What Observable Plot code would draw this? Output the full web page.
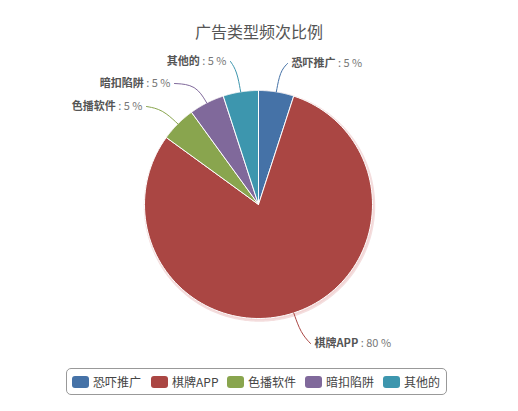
<!DOCTYPE html>
<html><head><meta charset="utf-8">
<script src="https://cdn.jsdelivr.net/npm/d3@7"></script>
<script src="https://cdn.jsdelivr.net/npm/@observablehq/plot@0.6"></script>
<style>
body{margin:0;background:#fff;font-family:"Noto Sans CJK SC","Noto Sans",sans-serif;}
#wrap{position:relative;width:518px;height:411px;overflow:hidden;}
#title{position:absolute;left:0;top:20px;width:518px;text-align:center;font-size:16px;color:#555;line-height:22px;}
#legend{position:absolute;left:66px;top:368px;width:381px;height:27px;box-sizing:border-box;border:1px solid #999;border-radius:5px;font-size:12px;color:#444;white-space:nowrap;}
.item{position:absolute;top:0;height:25px;display:flex;align-items:center;white-space:nowrap;}
.sw{width:17px;height:12px;border-radius:3px;margin-right:4px;flex-shrink:0;}
svg{position:absolute;left:0;top:0;}
</style></head>
<body><div id="wrap"><div id="title"></div><div id="legend"></div></div>
<script>
const title = "广告类型频次比例";
const categories = ["恐吓推广", "棋牌APP", "色播软件", "暗扣陷阱", "其他的"];
const values = [5, 80, 5, 5, 5];
const colors = ["#4572A7", "#AA4643", "#89A54E", "#80699B", "#3D96AE"];
// label anchor points (where the connector ends) for each slice
const labelX = [291, 314, 142, 170, 226];
const labelY = [63, 343, 106, 83, 61];
const labelAnchor = ["start", "start", "end", "end", "end"];
const legendX = [5, 84, 160, 238, 316];

const W = 518, H = 411, cx = 258, cy = 204, R = 114;
document.getElementById("title").textContent = title;

const pie = d3.pie().sort(null).value(d => d)(values);
const slices = [];
pie.forEach((p, i) => {
  const n = 120;
  slices.push({k: i, x: cx, y: cy});
  for (let j = 0; j <= n; j++) {
    const a = p.startAngle + (p.endAngle - p.startAngle) * j / n;
    slices.push({k: i, x: cx + R * Math.sin(a), y: cy - R * Math.cos(a)});
  }
  slices.push({k: i, x: cx, y: cy});
});
const shadow = d3.range(0, 361).map(d => ({x: cx + 1 + (R + 1) * Math.sin(d * Math.PI / 180), y: cy + 1.5 - (R + 1) * Math.cos(d * Math.PI / 180)}));
const connectors = [];
const labels = [];
pie.forEach((p, i) => {
  const a = (p.startAngle + p.endAngle) / 2;
  const ex = cx + R * Math.sin(a), ey = cy - R * Math.cos(a);
  const mx = cx + (R + 22) * Math.sin(a), my = cy - (R + 22) * Math.cos(a);
  const lx = labelX[i], ly = labelY[i];
  const bx = lx + (labelAnchor[i] === "start" ? -4 : 4);
  connectors.push({k: i, x: ex, y: ey}, {k: i, x: mx, y: my}, {k: i, x: bx, y: ly});
  labels.push({k: i, x: lx, y: ly, name: categories[i], val: " : " + values[i] + " %", anchor: labelAnchor[i]});
});

const ctx = document.createElement("canvas").getContext("2d");
labels.forEach(d => {
  ctx.font = "bold 11px 'Noto Sans CJK SC'";
  d.wName = ctx.measureText(d.name).width;
  ctx.font = "11px 'Noto Sans CJK SC'";
  d.wVal = ctx.measureText(d.val).width;
});

const chart = Plot.plot({
  width: W, height: H, margin: 0,
  x: {domain: [0, W], range: [0, W], axis: null},
  y: {domain: [0, H], range: [0, H], axis: null},
  marks: [
    Plot.line(shadow, {x: "x", y: "y", fill: "#f2d4d4", stroke: "#f4dede", strokeWidth: 1.5}),
    Plot.line(slices, {x: "x", y: "y", z: "k", fill: d => colors[d.k], stroke: "#fff", strokeWidth: 1, curve: "linear"}),
    Plot.line(connectors, {x: "x", y: "y", z: "k", stroke: d => colors[d.k], strokeWidth: 1, curve: "bundle"}),
    Plot.text(labels, {x: d => d.anchor === "start" ? d.x : d.x - d.wVal - d.wName, y: "y", text: "name", textAnchor: "start", fill: "#555", fontWeight: "bold", fontSize: 11, fontFamily: "Noto Sans CJK SC"}),
    Plot.text(labels, {x: d => d.anchor === "start" ? d.x + d.wName : d.x - d.wVal, y: "y", text: "val", textAnchor: "start", fill: "#777", fontSize: 11, fontFamily: "Noto Sans CJK SC"})
  ]
});
document.getElementById("wrap").prepend(chart);

const lg = document.getElementById("legend");
categories.forEach((c, i) => {
  const it = document.createElement("div"); it.className = "item"; it.style.left = legendX[i] + "px";
  const sw = document.createElement("div"); sw.className = "sw"; sw.style.background = colors[i];
  const tx = document.createElement("span"); tx.textContent = c;
  it.append(sw, tx); lg.append(it);
});
</script></body></html>
